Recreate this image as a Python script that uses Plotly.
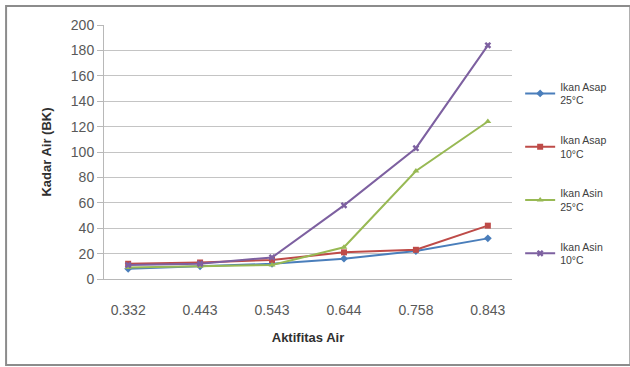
import plotly.graph_objects as go

aktifitas = ["0.332", "0.443", "0.543", "0.644", "0.758", "0.843"]
asap_25 = [8, 10, 12, 16, 22, 32]
asap_10 = [12, 13, 15, 21, 23, 42]
asin_25 = [9, 10, 11, 25, 85, 124]
asin_10 = [11, 12, 17, 58, 103, 184]

series = [
    ("Ikan Asap<br>25°C", asap_25, "#4a7ebb", "diamond"),
    ("Ikan Asap<br>10°C", asap_10, "#be4b48", "square"),
    ("Ikan Asin<br>25°C", asin_25, "#98b954", "triangle-up"),
    ("Ikan Asin<br>10°C", asin_10, "#7d60a0", "x"),
]

fig = go.Figure()
for i, (name, vals, color, sym) in enumerate(series):
    fig.add_trace(go.Scatter(
        x=aktifitas, y=vals, name=name, mode="lines+markers",
        legendgroup=f"g{i}",
        line=dict(color=color, width=2),
        marker=dict(color=color, symbol=sym, size=6),
    ))

font_family = "Liberation Sans, Arial, sans-serif"

fig.update_layout(
    width=630, height=367,
    margin=dict(l=104, r=118, t=25, b=88),
    paper_bgcolor="white", plot_bgcolor="white",
    font=dict(family=font_family, size=12, color="#595959"),
    showlegend=True,
    legend=dict(
        x=1.02, y=0.81, xanchor="left", yanchor="top",
        font=dict(size=10.5, color="#404040"),
        tracegroupgap=23, itemwidth=30,
        bgcolor="rgba(0,0,0,0)",
    ),
    xaxis=dict(
        type="category", showgrid=False, showline=True,
        linecolor="#b8b8b8", linewidth=1,
        ticks="outside", ticklen=18, tickcolor="rgba(0,0,0,0)",
        tickfont=dict(size=14, color="#595959"),
        title=dict(text="<b>Aktifitas Air</b>", font=dict(size=13, color="#303030"), standoff=16),
    ),
    yaxis=dict(
        range=[0, 200], dtick=20, showgrid=True, gridcolor="#c4c4c4", gridwidth=1,
        zeroline=False, showline=True, linecolor="#b8b8b8", linewidth=1,
        ticks="outside", ticklen=6, tickcolor="#b8b8b8",
        tickfont=dict(size=14, color="#595959"),
        title=dict(text="<b>Kadar Air (BK)</b>", font=dict(size=13, color="#303030"), standoff=16),
    ),
)

# chart frame
fig.add_shape(type="rect", xref="paper", yref="paper",
              x0=-0.240, x1=1.29, y0=-0.339, y1=1.075,
              line=dict(color="#8c8c8c", width=2), layer="below")

fig.write_html("out.html")
